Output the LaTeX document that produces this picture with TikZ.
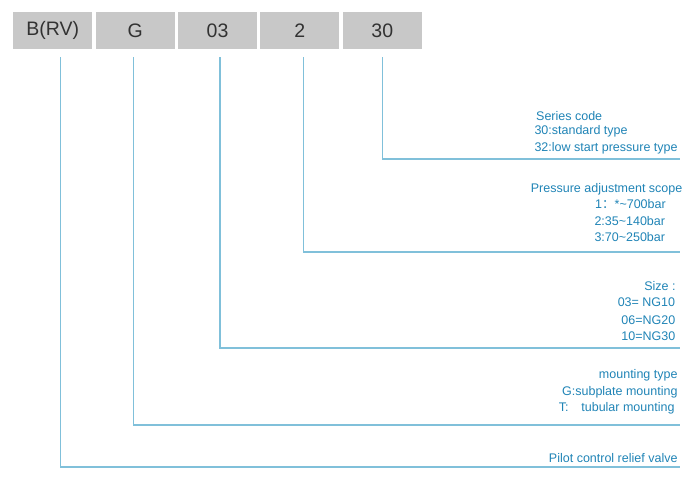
\documentclass[tikz,border=0pt]{standalone}
\usepackage{fontspec}
\setmainfont{Liberation Sans}
\newfontfamily\cjk{Noto Sans CJK SC}
\usetikzlibrary{positioning}
\definecolor{boxgray}{RGB}{200,200,200}
\definecolor{codetext}{RGB}{50,50,50}
\definecolor{leadblue}{RGB}{128,192,218}
\definecolor{notetext}{RGB}{32,132,182}

\begin{document}
\begin{tikzpicture}[
    x=1pt,
    y=-1pt,
    line cap=butt,
    codebox/.style={fill=boxgray, minimum width=79pt, minimum height=37pt,
        inner sep=0pt, text=codetext, font=\fontsize{19.5}{22}\selectfont},
    lead/.style={leadblue, line width=1.2pt},
    note/.style={text=notetext, inner sep=0pt, font=\fontsize{12.5}{15}\selectfont}
]
\useasboundingbox (0,0) rectangle (700,485);

% Code boxes
\node[codebox, anchor=north west] (bbox) at (13,12) {B(RV)};
\node[codebox, right=3pt of bbox] (gbox) {G};
\node[codebox, right=3pt of gbox] (sbox) {03};
\node[codebox, right=3pt of sbox] (pbox) {2};
\node[codebox, right=3pt of pbox] (cbox) {30};

% Lead lines
\foreach \n/\dx/\y in {bbox/8/467,gbox/-1.5/425,sbox/2.5/348,pbox/3.5/252,cbox/0/159}{
    \coordinate (\n-top) at ([xshift=\dx pt,yshift=-8pt]\n.south);
    \coordinate (\n-end) at (680,\y);
    \draw[lead] (\n-top) |- (\n-end);
}

% Series code
\node[note, anchor=base west] (series) at (536,120.7) {Series code};
\node[note, anchor=base west] (std)    at (534.3,134.7) {30:standard type};
\node[note, anchor=base west] (low)    at (534.3,151) {32:low start pressure type};

% Pressure adjustment scope
\node[note, anchor=base west] (press) at (530.7,192.3) {Pressure adjustment scope};
\node[note, anchor=base west] (pone)  at (595,208.3) {1{\cjk ：}*\textasciitilde 700bar};
\node[note, anchor=base west] (ptwo)  at (594.3,225) {2:35\textasciitilde 140bar};
\node[note, anchor=base west] (pthr)  at (594.3,241.7) {3:70\textasciitilde 250bar};

% Size
\node[note, anchor=base east] (size) at (675.7,290.7) {Size :};
\node[note, anchor=base east] (nga)  at (675.3,306.7) {03= NG10};
\node[note, anchor=base east] (ngb)  at (675.5,324) {06=NG20};
\node[note, anchor=base east] (ngc)  at (675.5,340.7) {10=NG30};

% Mounting type
\node[note, anchor=base east] (mount) at (677.7,378.3) {mounting type};
\node[note, anchor=base east] (subp)  at (677.7,395) {G:subplate mounting};
\node[note, anchor=base east] (tube)  at (674.7,411.7) {T:\hspace{12.7pt}tubular mounting};

% Valve
\node[note, anchor=base east] (pilot) at (677.7,462) {Pilot control relief valve};

\end{tikzpicture}
\end{document}
